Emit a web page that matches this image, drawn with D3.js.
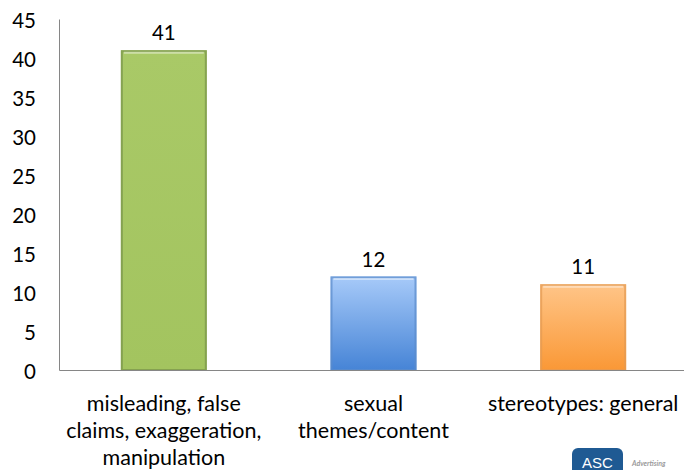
<!DOCTYPE html>
<html><head><meta charset="utf-8">
<script src="https://cdn.jsdelivr.net/npm/d3@7"></script>
<style>
html,body{margin:0;padding:0;background:#fff;}
svg{display:block;font-family:Lato, "Liberation Sans", sans-serif;}
</style></head>
<body><svg id="c" width="684" height="470"></svg>
<script>
const categories = [["misleading, false","claims, exaggeration,","manipulation"],["sexual","themes/content"],["stereotypes: general"]];
const categoryKeys = ["misleading","sexual","stereotypes"];
const values = [41, 12, 11];
const yTicks = [0,5,10,15,20,25,30,35,40,45];

const svg = d3.select("#c");
const mLeft = 59, mRight = 688, mTop = 19, mBottom = 370;
const x = d3.scaleBand().domain(categoryKeys).range([mLeft, mRight]).paddingInner(0.59).paddingOuter(0.295);
const y = d3.scaleLinear().domain([0,45]).range([mBottom, mTop]);

const defs = svg.append("defs");
const grads = [
  {id:"g0", top:"#A9C967", bot:"#A3C45F", stroke:"#77934A"},
  {id:"g1", top:"#A7CAF9", bot:"#4684D6", stroke:"#5B8CCB"},
  {id:"g2", top:"#FFC588", bot:"#FA9836", stroke:"#E39A52"}
];
grads.forEach(g=>{
  const lg = defs.append("linearGradient").attr("id",g.id).attr("x1",0).attr("y1",0).attr("x2",0).attr("y2",1);
  lg.append("stop").attr("offset","0%").attr("stop-color",g.top);
  lg.append("stop").attr("offset","100%").attr("stop-color",g.bot);
});

// y axis
const yAxis = d3.axisLeft(y).tickValues(yTicks).tickSize(0).tickPadding(23);
const ya = svg.append("g").attr("transform",`translate(${mLeft},0)`).call(yAxis);
ya.select(".domain").attr("stroke","#868686").attr("stroke-width",1);
ya.selectAll("text").attr("font-family","Lato").attr("font-size",20.5).attr("fill","#000").attr("dy","0.4em");

// bars
const bars = svg.append("g");
categoryKeys.forEach((k,i)=>{
  const bx = x(k), bw = x.bandwidth(), by = y(values[i]), bh = y(0)-y(values[i]);
  bars.append("rect").attr("x",bx).attr("y",by).attr("width",bw).attr("height",bh)
    .attr("fill",`url(#${grads[i].id})`);
  bars.append("rect").attr("x",bx+1).attr("y",by+1).attr("width",bw-2).attr("height",bh-1)
    .attr("fill","none").attr("stroke",grads[i].stroke).attr("stroke-width",2).attr("opacity",0.7);
  bars.append("line").attr("x1",bx+3).attr("x2",bx+bw-3).attr("y1",by+2.5).attr("y2",by+2.5)
    .attr("stroke","#fff").attr("stroke-opacity",0.45).attr("stroke-width",2);
  svg.append("text").attr("x",bx+bw/2).attr("y",by-17).attr("dy","0.35em").attr("text-anchor","middle")
    .attr("font-size",20.5).attr("fill","#000").text(values[i]);
});

// x axis
const xAxis = d3.axisBottom(x).tickSize(0).tickFormat("");
const xa = svg.append("g").attr("transform",`translate(0,${mBottom})`).call(xAxis);
xa.select(".domain").attr("stroke","#868686").attr("stroke-width",1);

categoryKeys.forEach((k,i)=>{
  const t = svg.append("text").attr("text-anchor","middle").attr("font-size",21.5).attr("fill","#000");
  categories[i].forEach((line,j)=>{
    t.append("tspan").attr("x",x(k)+x.bandwidth()/2).attr("y",403+j*27).attr("dy","0.35em").text(line);
  });
});

// logo
const logo = svg.append("g");
logo.append("rect").attr("x",572).attr("y",448).attr("width",51).attr("height",32).attr("rx",6).attr("fill","#1F5A93");
logo.append("text").attr("x",597.5).attr("y",468).attr("text-anchor","middle").attr("font-size",15).attr("fill","#fff").attr("font-family","Liberation Sans Narrow, Liberation Sans").text("ASC");
logo.append("text").attr("x",632).attr("y",466).attr("font-size",7).attr("font-style","italic").attr("font-weight","bold").attr("fill","#9a9a9a").text("Advertising");
</script></body></html>
